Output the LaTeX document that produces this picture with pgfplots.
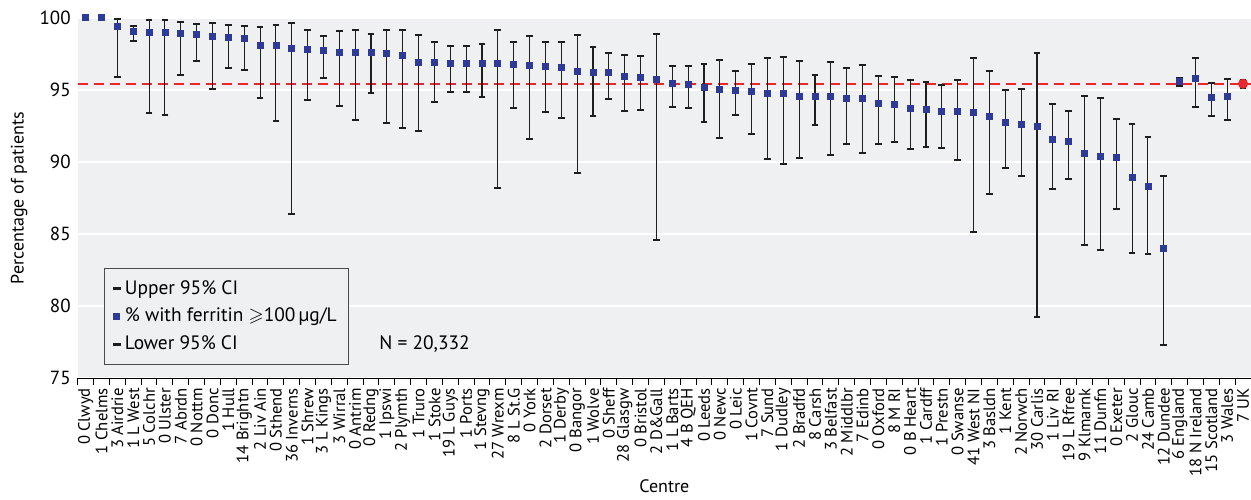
\documentclass[border=0pt]{standalone}
\usepackage{amssymb}
\usepackage{pgfplots}
\pgfplotsset{compat=1.18}
\usepackage{pgfplotstable}
\usepackage{fontspec}
\setmainfont{PT Sans}
\usetikzlibrary{calc}

\definecolor{panel}{RGB}{239,240,242}
\definecolor{dotblue}{RGB}{46,58,150}
\definecolor{refred}{RGB}{232,38,45}
\definecolor{barink}{RGB}{30,30,30}

% centre index, % with ferritin >= 100, lower and upper 95% CI
\pgfplotstableread{
x y lo hi
0 100 100 100
1 100 100 100
2 99.38 95.92 99.89
3 99.03 98.37 99.45
4 98.99 93.41 99.82
5 98.96 93.27 99.82
6 98.92 96.04 99.70
7 98.83 97.00 99.54
8 98.69 95.05 99.63
9 98.64 96.54 99.50
10 98.57 96.38 99.45
11 98.11 94.40 99.38
12 98.09 92.81 99.52
13 97.84 86.40 99.65
14 97.77 94.31 99.13
15 97.72 95.85 98.76
16 97.61 93.91 99.08
17 97.58 92.88 99.17
18 97.58 94.77 98.87
19 97.51 92.70 99.15
20 97.41 92.35 99.13
21 96.92 92.17 98.83
22 96.87 94.13 98.32
23 96.85 94.84 98.06
24 96.83 94.88 98.02
25 96.80 94.47 98.18
26 96.80 88.18 99.15
27 96.78 93.71 98.34
28 96.68 91.59 98.73
29 96.64 93.46 98.30
30 96.57 93.04 98.32
31 96.31 89.26 98.80
32 96.24 93.18 97.95
33 96.24 94.33 97.54
34 95.90 93.50 97.42
35 95.85 93.62 97.33
36 95.71 84.56 98.90
37 95.44 93.82 96.66
38 95.39 93.76 96.64
39 95.14 92.74 96.78
40 95.02 91.63 97.07
41 94.98 93.22 96.29
42 94.86 91.93 96.80
43 94.72 90.18 97.21
44 94.72 89.83 97.30
45 94.56 90.25 97.03
46 94.55 92.53 96.06
47 94.52 90.46 96.94
48 94.43 91.27 96.50
49 94.40 90.63 96.71
50 94.05 91.24 95.99
51 94.01 91.38 95.88
52 93.71 90.87 95.69
53 93.66 91.01 95.57
54 93.48 90.97 95.35
55 93.48 90.14 95.71
56 93.41 85.16 97.21
57 93.13 87.74 96.27
58 92.74 89.56 95.00
59 92.58 89.00 95.05
60 92.49 79.21 97.54
61 91.54 88.11 94.03
62 91.45 88.78 93.53
63 90.62 84.23 94.59
64 90.39 83.89 94.45
65 90.30 86.75 93.00
66 88.94 83.66 92.65
67 88.27 83.64 91.73
68 84.02 77.30 89.05
69 95.57 95.23 95.85
70 95.81 93.78 97.21
71 94.45 93.18 95.50
72 94.52 92.93 95.78
}\centres

\pgfplotstableread{
x y lo hi
73 95.42 95.12 95.69
}\ukrow

\begin{document}
\begin{tikzpicture}
\begin{axis}[
  name=main,
  scale only axis,
  width=586.5pt, height=180.2pt,
  xmin=-0.5, xmax=73.5, ymin=75, ymax=100,
  clip=false,
  axis background/.style={fill=panel},
  axis x line*=bottom, axis y line*=left,
  x axis line style={-, black, line width=0.6pt},
  y axis line style={draw=none},
  ytick={75,80,...,100},
  ymajorgrids,
  grid style={white, line width=1pt},
  ytick style={draw=none},
  /pgf/number format/assume math mode=true,
  yticklabel style={font=\fontsize{9.5}{10}\selectfont},
  xtick={0,...,73},
  xticklabels={0 Clwyd,1 Chelms,3 Airdrie,1 L West,5 Colchr,0 Ulster,7 Abrdn,0 Nottm,0 Donc,1 Hull,14 Brightn,2 Liv Ain,0 Sthend,36 Inverns,1 Shrew,3 L Kings,3 Wirral,0 Antrim,0 Redng,1 Ipswi,2 Plymth,1 Truro,1 Stoke,19 L Guys,1 Ports,1 Stevng,27 Wrexm,8 L St.G,0 York,2 Dorset,1 Derby,0 Bangor,1 Wolve,0 Sheff,28 Glasgw,0 Bristol,2 D\&Gall,1 L Barts,4 B QEH,0 Leeds,0 Newc,0 Leic,1 Covnt,7 Sund,1 Dudley,2 Bradfd,8 Carsh,3 Belfast,2 Middlbr,7 Edinb,0 Oxford,8 M RI,0 B Heart,1 Cardff,1 Prestn,0 Swanse,41 West NI,3 Basldn,1 Kent,2 Norwch,30 Carlis,1 Liv RI,19 L Rfree,9 Klmarnk,11 Dunfn,0 Exeter,2 Glouc,24 Camb,12 Dundee,6 England,18 N Ireland,15 Scotland,3 Wales,7 UK},
  minor xtick={-0.5,0.5,...,73.5},
  major tick length=0pt, minor tick length=3.3pt,
  tick align=outside,
  minor tick style={black, line width=0.5pt},
  xticklabel style={yshift=-4.3pt, rotate=90, anchor=east, inner sep=0.5pt, font=\fontsize{8.3}{8.5}\selectfont},
  xlabel={Centre},
  xlabel style={at={(axis description cs:0.5,0)}, anchor=center, yshift=-54pt, font=\fontsize{9}{10}\selectfont},
  ylabel={Percentage of patients},
  ylabel style={at={(axis description cs:-0.05,0.5)}, anchor=center, font=\fontsize{9}{10}\selectfont},
  legend style={at={(0.0227,0.036)}, anchor=south west, fill=panel, draw=black!70, line width=0.5pt,
    font=\fontsize{9.7}{11}\selectfont, inner xsep=4pt, inner ysep=4pt, row sep=1.5pt},
  legend cell align=left,
  legend image code/.code={\draw[#1] plot coordinates {(0.15cm,0cm)};},
]
% UK average reference line
\addplot[refred, line width=0.8pt, dash pattern=on 5pt off 3pt, forget plot]
  coordinates {(-0.5,95.42) (73.5,95.42)};

\addplot[only marks, mark=square*, mark size=1.5pt, color=dotblue, forget plot,
  error bars/.cd, y dir=both, y explicit,
  error bar style={barink, line width=0.55pt},
  error mark options={rotate=90, barink, line width=1pt, mark size=1.7pt}]
  table[x=x, y=y, y error plus expr=\thisrow{hi}-\thisrow{y}, y error minus expr=\thisrow{y}-\thisrow{lo}] {\centres};

\addplot[only marks, mark=*, mark size=2.3pt, color=refred, forget plot,
  error bars/.cd, y dir=both, y explicit,
  error bar style={barink, line width=0.55pt},
  error mark options={rotate=90, barink, line width=1pt, mark size=1.7pt}]
  table[x=x, y=y, y error plus expr=\thisrow{hi}-\thisrow{y}, y error minus expr=\thisrow{y}-\thisrow{lo}] {\ukrow};

\addlegendimage{only marks, mark=-, mark size=2pt, line width=1.3pt, barink}
\addlegendentry{Upper 95\% CI}
\addlegendimage{only marks, mark=square*, mark size=1.5pt, dotblue}
\addlegendentry{\% with ferritin $\geqslant$100\,µg/L}
\addlegendimage{only marks, mark=-, mark size=2pt, line width=1.3pt, barink}
\addlegendentry{Lower 95\% CI}

\node[anchor=west, inner sep=0pt, font=\fontsize{9.7}{11}\selectfont] at (axis cs:18.5,77.37) {N = 20,332};
\end{axis}
\pgfresetboundingbox
\useasboundingbox ($(main.south west)+(-38.85pt,-60.5pt)$) rectangle ($(main.north east)+(0pt,8.85pt)$);
\end{tikzpicture}
\end{document}
